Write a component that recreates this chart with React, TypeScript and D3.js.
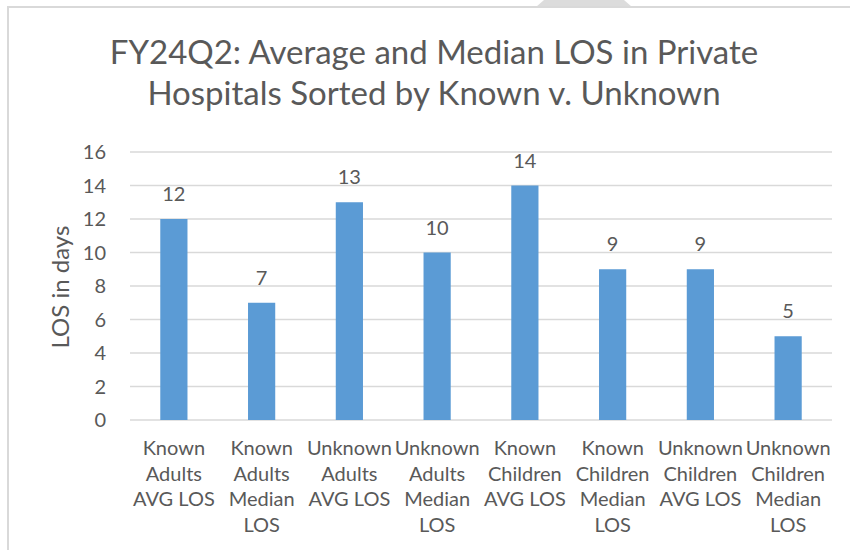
import React from "react";
import * as d3 from "d3";

const categories = [
  "Known Adults AVG LOS",
  "Known Adults Median LOS",
  "Unknown Adults AVG LOS",
  "Unknown Adults Median LOS",
  "Known Children AVG LOS",
  "Known Children Median LOS",
  "Unknown Children AVG LOS",
  "Unknown Children Median LOS",
];
const values = [12, 7, 13, 10, 14, 9, 9, 5];
const yTicks = [0, 2, 4, 6, 8, 10, 12, 14, 16];
const titleLines = ["FY24Q2: Average and Median LOS in Private", "Hospitals Sorted by Known v. Unknown"];
const yAxisTitle = "LOS in days";

const FONT = "Lato, 'Open Sans', sans-serif";
const TEXT = "#595959";
const GRID = "#d9d9d9";
const BAR = "#5b9bd5";

function wrap(label: string, maxW: number, font: string): string[] {
  const canvas = document.createElement("canvas");
  const ctx = canvas.getContext("2d")!;
  ctx.font = font;
  const words = label.split(" ");
  const lines: string[] = [];
  let cur = "";
  for (const w of words) {
    const t = cur ? cur + " " + w : w;
    if (cur && ctx.measureText(t).width > maxW) {
      lines.push(cur);
      cur = w;
    } else cur = t;
  }
  if (cur) lines.push(cur);
  return lines;
}

export default function App() {
  const x = d3.scaleBand<string>().domain(categories).range([130, 832]).paddingInner(0.69).paddingOuter(0.345);
  const y = d3.scaleLinear().domain([0, 16]).range([420, 152]);
  const labelFont = `20px ${FONT}`;
  return (
    <svg width={850} height={550} style={{ position: "absolute", left: 0, top: 0, background: "#fff" }} fontFamily={FONT}>
      <rect x={0} y={0} width={850} height={550} fill="#fff" />
      <polygon points="536,7 632,7 624,0 544,0" fill="#dcdcdc" />
      <line x1={8} y1={7} x2={850} y2={7} stroke={GRID} strokeWidth={2} />
      <line x1={8} y1={6} x2={8} y2={550} stroke={GRID} strokeWidth={2} />
      {titleLines.map((t, i) => (
        <text key={i} x={434} y={64 + i * 41} textAnchor="middle" fontSize={33} fill={TEXT}>
          {t}
        </text>
      ))}
      {yTicks.map((t) => (
        <g key={t}>
          <line x1={130} x2={832} y1={y(t)} y2={y(t)} stroke={GRID} strokeWidth={1.5} />
          <text x={106} y={y(t)} dy="0.35em" textAnchor="end" fontSize={20} fill={TEXT}>
            {t}
          </text>
        </g>
      ))}
      <text transform={`translate(61,287) rotate(-90)`} textAnchor="middle" fontSize={24} fill={TEXT} dy="0.35em">
        {yAxisTitle}
      </text>
      {categories.map((c, i) => (
        <g key={c}>
          <rect x={x(c)!} y={y(values[i])} width={x.bandwidth()} height={y(0) - y(values[i])} fill={BAR} />
          <text x={x(c)! + x.bandwidth() / 2} y={y(values[i]) - 18} textAnchor="middle" fontSize={20} fill={TEXT}>
            {values[i]}
          </text>
          {wrap(c, 88, labelFont).map((l, j) => (
            <text key={j} x={x(c)! + x.bandwidth() / 2} y={455 + j * 25.5} textAnchor="middle" fontSize={20} fill={TEXT}>
              {l}
            </text>
          ))}
        </g>
      ))}
    </svg>
  );
}
